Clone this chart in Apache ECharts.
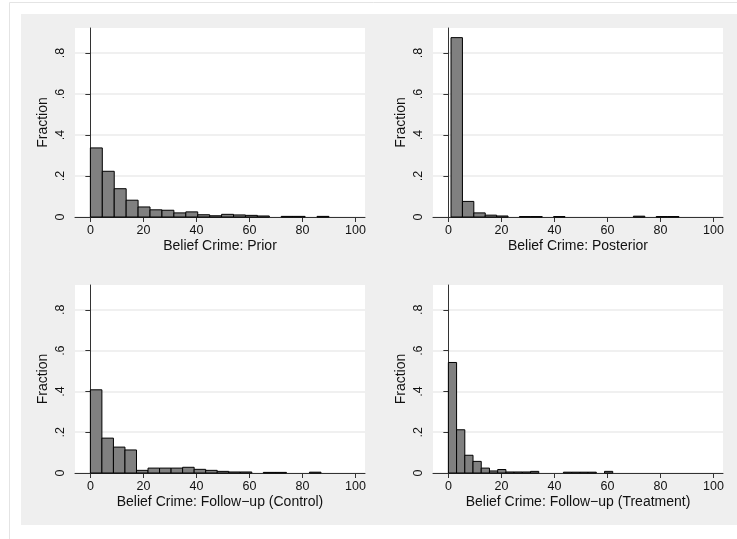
<!DOCTYPE html>
<html>
<head>
<meta charset="utf-8">
<script src="https://cdn.jsdelivr.net/npm/echarts@6/dist/echarts.min.js"></script>
<style>
html,body{margin:0;padding:0;background:#fff;}
#c{width:737px;height:539px;}
</style>
</head>
<body>
<div id="c"></div>
<script>
// ---- Data (fractions per histogram bin) ----
const xTickValues = [0, 20, 40, 60, 80, 100];
const xTickLabels = ['0', '20', '40', '60', '80', '100'];
const yTickValues = [0, 0.2, 0.4, 0.6, 0.8];
const yTickLabels = ['0', '.2', '.4', '.6', '.8'];

const titlePrior = 'Belief Crime: Prior';
const titlePosterior = 'Belief Crime: Posterior';
const titleControl = 'Belief Crime: Follow\u2212up (Control)';
const titleTreatment = 'Belief Crime: Follow\u2212up (Treatment)';

// bin start and bin width for each histogram
const priorBinStart = 0, priorBinWidth = 4.5;
const posteriorBinStart = 1, posteriorBinWidth = 4.3;
const controlBinStart = 0, controlBinWidth = 4.35;
const treatmentBinStart = 0, treatmentBinWidth = 3.1;

const priorFractions = [0.337, 0.223, 0.138, 0.082, 0.049, 0.035, 0.033, 0.020, 0.025, 0.011,
                        0.006, 0.013, 0.010, 0.008, 0.005, 0, 0.003, 0.003, 0, 0.003];
const posteriorFractions = [0.875, 0.076, 0.020, 0.009, 0.005, 0, 0.002, 0.002, 0, 0.002,
                            0, 0, 0, 0, 0, 0, 0.004, 0, 0.002, 0.002];
const controlFractions = [0.408, 0.171, 0.127, 0.113, 0.013, 0.024, 0.024, 0.024, 0.028, 0.018,
                          0.013, 0.008, 0.005, 0.005, 0, 0.003, 0.003, 0, 0, 0.004];
const treatmentFractions = [0.542, 0.212, 0.087, 0.057, 0.024, 0.010, 0.017, 0.005, 0.005, 0.005,
                            0.008, 0, 0, 0, 0.004, 0.004, 0.004, 0.004, 0, 0.008];

// ---- Build ----
const FONT = "'Liberation Sans', Arial, Helvetica, sans-serif";
const TXT = '#111111';
const AX = '#333333';

function bins(start, width, fr) {
  const out = [];
  fr.forEach((f, i) => {
    if (f > 0) out.push([start + i * width, start + (i + 1) * width, f]);
  });
  return out;
}

const panels = [
  {left: 75, top: 28, h: 189, name: titlePrior, data: bins(priorBinStart, priorBinWidth, priorFractions)},
  {left: 433, top: 28, h: 189, name: titlePosterior, data: bins(posteriorBinStart, posteriorBinWidth, posteriorFractions)},
  {left: 75, top: 285, h: 188, name: titleControl, data: bins(controlBinStart, controlBinWidth, controlFractions)},
  {left: 433, top: 285, h: 188, name: titleTreatment, data: bins(treatmentBinStart, treatmentBinWidth, treatmentFractions)}
];

function nearestLabel(vals, labs, v) {
  let best = 0;
  for (let i = 1; i < vals.length; i++) if (Math.abs(vals[i] - v) < Math.abs(vals[best] - v)) best = i;
  return labs[best];
}

function renderItem(params, api) {
  const x0 = api.value(0), x1 = api.value(1), y = api.value(2);
  const p0 = api.coord([x0, y]);
  const p1 = api.coord([x1, 0]);
  return {
    type: 'rect',
    shape: {x: p0[0], y: p0[1], width: p1[0] - p0[0], height: p1[1] - p0[1]},
    style: {fill: '#808080', stroke: '#000', lineWidth: 1}
  };
}

const grid = [], xAxis = [], yAxis = [], series = [];
panels.forEach((p, i) => {
  grid.push({left: p.left, top: p.top, width: 290, height: p.h, show: true,
             backgroundColor: '#ffffff', borderWidth: 0, outerBoundsMode: 'none', containLabel: false});
  xAxis.push({
    type: 'value', gridIndex: i, min: -5.8, max: 103.6,
    name: p.name, nameLocation: 'middle', nameGap: 22,
    nameTextStyle: {color: TXT, fontSize: 14, fontFamily: FONT},
    axisLine: {show: true, onZero: false, lineStyle: {color: AX, width: 1}},
    axisTick: {show: true, length: 5, lineStyle: {color: AX}, customValues: xTickValues},
    axisLabel: {show: true, color: TXT, fontSize: 12.5, fontFamily: FONT, margin: 7,
                customValues: xTickValues,
                formatter: v => nearestLabel(xTickValues, xTickLabels, v)},
    splitLine: {show: false}
  });
  yAxis.push({
    type: 'value', gridIndex: i, min: 0, max: 0.922,
    name: 'Fraction', nameLocation: 'middle', nameGap: 25, nameRotate: 90,
    nameTextStyle: {color: TXT, fontSize: 14, fontFamily: FONT},
    axisLine: {show: true, lineStyle: {color: AX, width: 1}},
    axisTick: {show: true, length: 5, lineStyle: {color: AX}, customValues: yTickValues},
    axisLabel: {show: true, color: TXT, fontSize: 12.5, fontFamily: FONT, margin: 8, rotate: 90,
                customValues: yTickValues,
                formatter: v => nearestLabel(yTickValues, yTickLabels, v)},
    splitLine: {show: true, lineStyle: {color: '#ebebeb', width: 1.5}}
  });
  series.push({
    type: 'custom', xAxisIndex: i, yAxisIndex: i,
    renderItem: renderItem, data: p.data, silent: true, animation: false,
    encode: {x: [0, 1], y: 2}
  });
});

const chart = echarts.init(document.getElementById('c'), null, {renderer: 'canvas'});
chart.setOption({
  backgroundColor: '#ffffff',
  animation: false,
  textStyle: {fontFamily: FONT},
  graphic: [
    {type: 'rect', z: -10, silent: true, shape: {x: 9.5, y: 2.5, width: 740, height: 540},
     style: {fill: '#ffffff', stroke: '#e4e4e4', lineWidth: 1}},
    {type: 'rect', z: -9, silent: true, shape: {x: 21, y: 14, width: 716, height: 511},
     style: {fill: '#efefef'}}
  ],
  grid: grid, xAxis: xAxis, yAxis: yAxis, series: series
});
</script>
</body>
</html>
